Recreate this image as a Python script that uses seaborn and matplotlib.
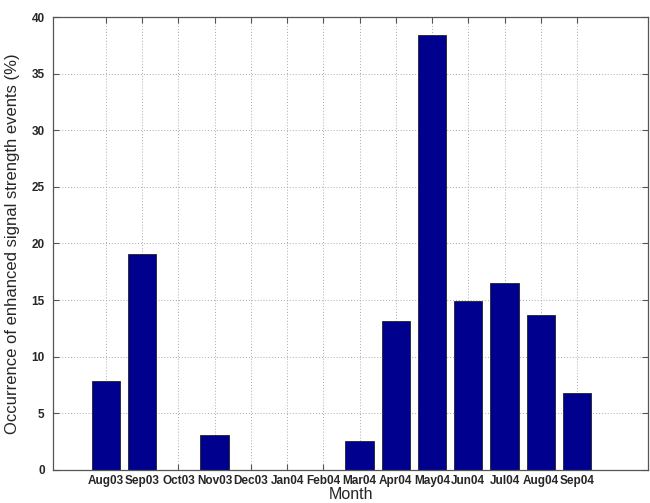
import matplotlib
matplotlib.use("Agg")
import matplotlib.pyplot as plt
import seaborn as sns
import pandas as pd

# monthly occurrence of enhanced signal strength events
months = ["Aug03", "Sep03", "Oct03", "Nov03", "Dec03", "Jan04", "Feb04",
          "Mar04", "Apr04", "May04", "Jun04", "Jul04", "Aug04", "Sep04"]
occurrence = [7.85, 19.1, 0.0, 3.05, 0.0, 0.0, 0.0,
              2.55, 13.2, 38.45, 14.9, 16.5, 13.7, 6.8]
yticks = [0, 5, 10, 15, 20, 25, 30, 35, 40]

df = pd.DataFrame({"Month": months, "Occurrence": occurrence})

sns.set_style("ticks")
plt.rcParams["font.family"] = ["Liberation Sans", "DejaVu Sans"]

fig = plt.figure(figsize=(6.5, 5.03), dpi=100)
ax = fig.add_axes([53 / 650, 1 - 470 / 503, 595 / 650, 453 / 503])

sns.barplot(data=df, x="Month", y="Occurrence", color="#00008F",
            saturation=1, width=0.78, edgecolor="#222222", linewidth=0.6, ax=ax)

ax.set_xlim(-1.46, 14.96)
ax.set_ylim(0, 40)
ax.set_yticks(yticks)
ax.set_yticklabels([str(t) for t in yticks], fontsize=8.5, fontweight="bold")
ax.set_xticks(range(len(months)))
ax.set_xticklabels(months, fontsize=8.5, fontweight="bold")

ax.grid(True, linestyle=(0, (1, 2)), color="#aaaaaa", linewidth=0.7)
ax.set_axisbelow(True)
ax.tick_params(direction="in", top=True, right=True, length=4,
               color="#555555", pad=6)
ax.tick_params(axis="x", pad=3.5)
for s in ax.spines.values():
    s.set_color("#555555")
    s.set_linewidth(0.9)

ax.set_xlabel("Month", fontsize=11.5, labelpad=0)
ax.set_ylabel("Occurrence of enhanced signal strength events (%)",
              fontsize=12, labelpad=8)

fig.savefig("out.png", dpi=100)
